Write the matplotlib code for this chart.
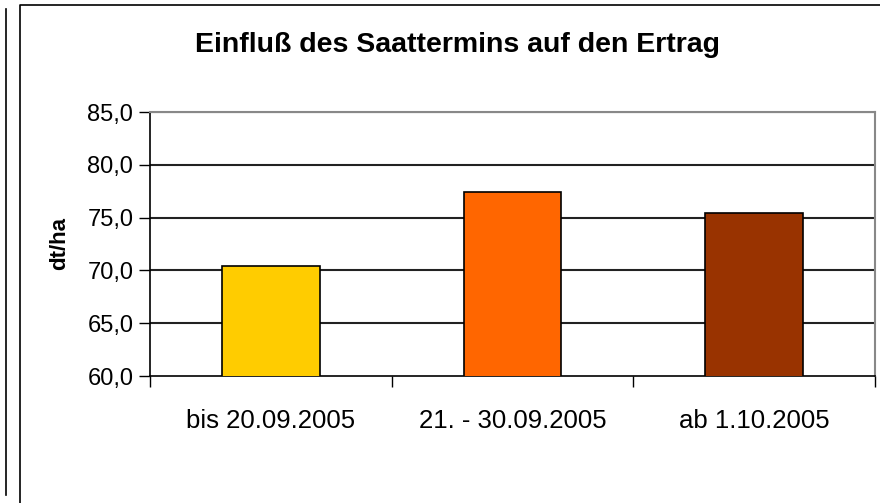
import matplotlib
matplotlib.use("Agg")
import matplotlib.pyplot as plt
from matplotlib.lines import Line2D

categories = ["bis 20.09.2005", "21. - 30.09.2005", "ab 1.10.2005"]
values = [70.4, 77.4, 75.4]
colors = ["#FFCC00", "#FF6600", "#993300"]
yticks = [60.0, 65.0, 70.0, 75.0, 80.0, 85.0]

plt.rcParams['font.family'] = ['Liberation Sans', 'DejaVu Sans']

W, H = 880, 503
fig = plt.figure(figsize=(W/100, H/100), dpi=100)

# outer frame lines
fig.add_artist(Line2D([5.5/W, 5.5/W], [1-9/H, 1-495/H], color="black", lw=1.2, transform=fig.transFigure))
fig.add_artist(Line2D([20/W, 20/W, 1], [0, 1-5/H, 1-5/H], color="black", lw=1.2, transform=fig.transFigure))

left, right, top, bottom = 150, 875, 112, 376
ax = fig.add_axes([left/W, 1-bottom/H, (right-left)/W, (bottom-top)/H])

x = list(range(len(categories)))
ax.bar(x, values, width=0.405, color=colors, edgecolor="black", linewidth=1.2, zorder=3)

ax.set_ylim(60, 85)
ax.set_xlim(-0.5, len(categories)-0.5)
ax.set_yticks(yticks)
ax.set_yticklabels([f"{v:.1f}".replace(".", ",") for v in yticks], fontsize=17)
for v in yticks[1:]:
    ax.axhline(v, color="#222222", lw=1.5, zorder=1)

ax.set_xticks([i for i in x])
ax.set_xticklabels(categories, fontsize=18.5)
ax.tick_params(axis="x", length=0, pad=24)
ax.set_xticks([i - 0.5 for i in range(len(categories)+1)], minor=True)
ax.tick_params(axis="x", which="minor", length=8, width=1, color="black", direction="out")
ax.tick_params(axis="y", length=8, width=1, color="black", direction="out", pad=4)

for s in ["top", "right"]:
    ax.spines[s].set_color("#888888")
    ax.spines[s].set_linewidth(1.5)
ax.spines["left"].set_color("black")
ax.spines["bottom"].set_color("black")
ax.spines["left"].set_linewidth(1.2)
ax.spines["bottom"].set_linewidth(1.2)

fig.text(59.5/W, 1-243/H, "dt/ha", rotation=90, ha="center", va="center",
         fontsize=16, fontweight="bold")
fig.text(457.5/W, 1-51.7/H, "Einfluß des Saattermins auf den Ertrag", ha="center", va="baseline",
         fontsize=20.5, fontweight="bold")

fig.savefig("out.png", dpi=100)
